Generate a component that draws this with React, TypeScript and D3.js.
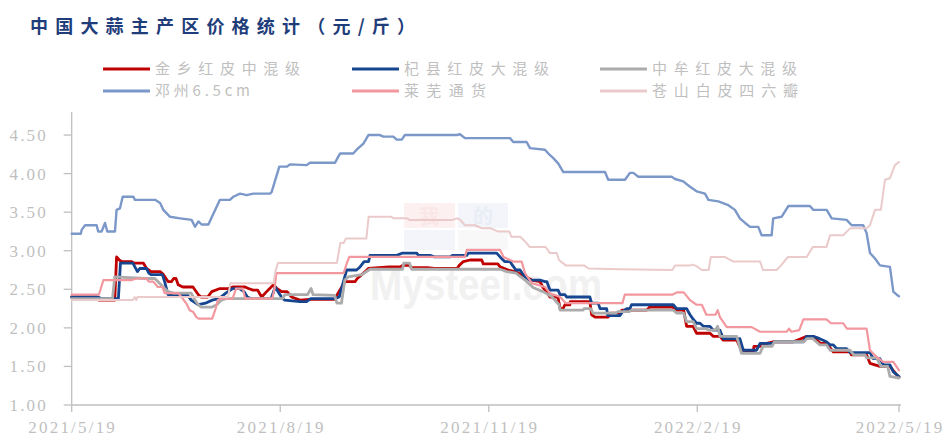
import React, { useEffect } from 'react';
import * as d3 from 'd3';

// ---------- data ----------
const title = '中国大蒜主产区价格统计（元/斤）';
const startDate = '2021/5/19';
const endDate = '2022/5/19';
const xTickLabels = ['2021/5/19', '2021/8/19', '2021/11/19', '2022/2/19', '2022/5/19'];
const yTickValues = [1.0, 1.5, 2.0, 2.5, 3.0, 3.5, 4.0, 4.5];
const seriesNames = ['金乡红皮中混级', '杞县红皮大混级', '中牟红皮大混级', '邓州6.5cm', '莱芜通货', '苍山白皮四六瓣'];
const seriesColors = ['#C00000', '#16468F', '#ABABAB', '#7B98C9', '#F3979F', '#EACACA'];

// [days since 2021/5/19, price]
const jinxiang: [number, number][] = [
  [0, 2.4], [11, 2.4], [12, 2.36], [19, 2.36], [19.8, 2.92], [21, 2.88], [22, 2.86], [26.5, 2.86], [27.5, 2.84], [31.6, 2.84],
  [33, 2.77], [35, 2.73], [39, 2.73], [40.5, 2.69], [42.5, 2.6], [44, 2.6], [45, 2.64], [46, 2.64], [47, 2.56], [49, 2.53],
  [53.5, 2.53], [55.9, 2.43], [57, 2.4], [60, 2.4], [61.8, 2.47], [65.4, 2.51], [69, 2.51], [71, 2.53], [76.5, 2.53], [78, 2.51],
  [80, 2.49], [82, 2.49], [83.8, 2.4], [86, 2.47], [89, 2.56], [90.5, 2.51], [92.6, 2.47], [95, 2.47], [97, 2.4], [100.7, 2.36],
  [105, 2.37], [116, 2.37], [117.5, 2.45], [120.6, 2.6], [125, 2.6], [126, 2.64], [128, 2.69], [129.5, 2.73], [130.9, 2.77], [140, 2.79],
  [145, 2.79], [146, 2.81], [149, 2.81], [150, 2.78], [157, 2.78], [160, 2.77], [170, 2.77], [171, 2.81], [172.8, 2.86], [175.7, 2.88],
  [180.9, 2.88], [181.6, 2.83], [188, 2.83], [189, 2.79], [192.6, 2.75], [195.6, 2.73], [198.5, 2.69], [203, 2.62], [206.6, 2.6], [208, 2.52],
  [210.3, 2.43], [211, 2.4], [214.5, 2.4], [215.5, 2.25], [216.8, 2.25], [217.6, 2.3], [219.8, 2.3], [220, 2.34], [228.6, 2.34], [229.4, 2.17],
  [230.9, 2.14], [236.7, 2.14], [237.5, 2.19], [241.9, 2.19], [242.7, 2.23], [253.7, 2.23], [255, 2.27], [265, 2.27], [266.5, 2.23], [270, 2.23],
  [271.3, 2.02], [274.2, 2.02], [275.7, 1.93], [281.6, 1.93], [283, 1.89], [286, 1.89], [287.5, 1.84], [293.4, 1.84], [295.5, 1.71], [297, 1.71],
  [297.8, 1.69], [300.7, 1.69], [301, 1.76], [303.7, 1.76], [304, 1.8], [306.6, 1.8], [309.5, 1.82], [318.4, 1.82], [324.3, 1.89], [327.2, 1.89],
  [330.2, 1.8], [333.1, 1.8], [336, 1.69], [343.4, 1.69], [344, 1.65], [350.7, 1.65], [352.2, 1.54], [356.6, 1.5], [361, 1.5], [364, 1.39], [365, 1.36],
];

const qixian: [number, number][] = [
  [0, 2.4], [11.6, 2.4], [13, 2.38], [20.6, 2.38], [21.5, 2.84], [27, 2.84], [29, 2.73], [30, 2.77], [33, 2.77], [34, 2.71],
  [35, 2.69], [40, 2.69], [41, 2.6], [42.5, 2.43], [51, 2.43], [52.7, 2.36], [55.9, 2.3], [59, 2.32], [62, 2.36], [65, 2.38],
  [68, 2.45], [71, 2.51], [74, 2.51], [76, 2.47], [77.5, 2.4], [79, 2.38], [88, 2.38], [89.8, 2.53], [91, 2.47], [93, 2.38],
  [94, 2.36], [100.7, 2.34], [103.6, 2.34], [104.5, 2.36], [105.5, 2.38], [116, 2.38], [118, 2.4], [121.3, 2.75], [125.7, 2.75], [127.2, 2.79],
  [129, 2.86], [131, 2.86], [131.6, 2.94], [143.4, 2.94], [146, 2.97], [152.2, 2.97], [153, 2.94], [158.1, 2.94], [160, 2.92], [167, 2.92],
  [168, 2.94], [174.3, 2.94], [175, 2.97], [187.5, 2.97], [189, 2.92], [191, 2.86], [193.4, 2.86], [194.5, 2.81], [196, 2.75], [197.8, 2.75],
  [200, 2.66], [202, 2.62], [206.6, 2.62], [208.8, 2.6], [209.6, 2.6], [211, 2.49], [214.6, 2.49], [215.5, 2.43], [217.6, 2.43], [218.4, 2.4],
  [228.6, 2.4], [229.4, 2.32], [232.3, 2.32], [233.1, 2.25], [236, 2.25], [236.5, 2.16], [241.9, 2.16], [243, 2.21], [244.9, 2.25], [246.3, 2.25],
  [247, 2.3], [265.4, 2.3], [266.9, 2.25], [271.3, 2.25], [272.8, 2.17], [274, 2.12], [275.7, 2.06], [277.2, 2.06], [278.7, 2.02], [281.6, 2.02],
  [283, 1.97], [286, 1.97], [287.5, 1.86], [294.8, 1.86], [296.3, 1.71], [302.2, 1.71], [303.7, 1.8], [309.5, 1.8], [310, 1.82], [322.8, 1.82],
  [324.3, 1.89], [327.2, 1.89], [330, 1.86], [333, 1.82], [334.6, 1.78], [336, 1.78], [337.5, 1.73], [341.9, 1.73], [343.4, 1.68], [352.2, 1.68],
  [353.7, 1.6], [356.6, 1.6], [358.1, 1.52], [361, 1.52], [362.5, 1.43], [365, 1.37],
];

const zhongmou: [number, number][] = [
  [0, 2.38], [18, 2.38], [19, 2.66], [32.3, 2.64], [36.7, 2.64], [38, 2.6], [41, 2.51], [42.5, 2.47], [45, 2.45], [52.7, 2.45],
  [54.4, 2.36], [55.9, 2.3], [57, 2.27], [62, 2.27], [64, 2.3], [66, 2.36], [68, 2.38], [93, 2.38], [94, 2.43], [104, 2.43],
  [105.6, 2.51], [106.5, 2.43], [116, 2.42], [117, 2.32], [119, 2.32], [120.5, 2.62], [122, 2.66], [128, 2.69], [131.6, 2.76], [146, 2.76],
  [146.5, 2.84], [149, 2.84], [150, 2.76], [189, 2.76], [192, 2.73], [196, 2.71], [200, 2.62], [203.7, 2.52], [208, 2.47], [212, 2.4],
  [215, 2.3], [215.5, 2.23], [225.6, 2.23], [226, 2.25], [229, 2.25], [230, 2.19],
  [240, 2.19], [241, 2.21], [246, 2.21], [247, 2.23], [265.4, 2.23], [267, 2.19], [270, 2.19], [271.3, 2.08], [274.2, 2.08], [275.7, 1.99],
  [280, 1.99], [281, 1.97], [284, 1.97], [285, 2.02], [286, 1.89], [293.4, 1.89], [295.5, 1.67], [303.7, 1.67], [305, 1.76], [309, 1.76],
  [310, 1.82], [323, 1.82], [324.3, 1.86], [327, 1.86], [330, 1.78], [333, 1.78], [334.6, 1.71], [343.4, 1.71], [345, 1.65], [350, 1.65],
  [350.7, 1.61], [355.1, 1.61], [357, 1.5], [360, 1.5], [361, 1.37], [365, 1.35],
];

const dengzhou: [number, number][] = [
  [0, 3.22], [4, 3.22], [4.4, 3.27], [5.9, 3.33], [11, 3.33], [11.7, 3.25], [13.2, 3.25], [14.7, 3.36], [15.7, 3.25], [19.1, 3.25],
  [19.8, 3.53], [21.3, 3.55], [22.5, 3.7], [27.2, 3.7], [27.9, 3.66], [36.8, 3.66], [39, 3.62], [40.4, 3.53], [43.4, 3.44], [47.8, 3.42],
  [52.9, 3.4], [54.4, 3.31], [55.9, 3.38], [57.3, 3.34], [60.3, 3.34], [65.4, 3.66], [69.8, 3.66], [71.3, 3.7], [74.3, 3.74], [77.2, 3.72],
  [80.1, 3.74], [87.5, 3.74], [88.2, 3.76], [91.6, 4.09], [94.9, 4.09], [96.3, 4.12], [103.7, 4.11], [105.1, 4.14], [116.2, 4.14], [117.6, 4.22],
  [118.4, 4.26], [124.2, 4.26], [125.7, 4.31], [128.7, 4.39], [130.9, 4.5], [136, 4.5], [137.5, 4.48], [141.9, 4.48], [143.4, 4.44], [145.6, 4.44],
  [147, 4.5], [169.9, 4.5], [171.3, 4.51], [173.5, 4.46], [193.4, 4.46], [194.8, 4.41], [200.7, 4.41], [202.2, 4.33], [208.8, 4.31], [210.3, 4.26],
  [212.5, 4.2], [214.7, 4.13], [216.9, 4.02], [235.3, 4.02], [236.7, 3.92], [244.1, 3.92], [246.3, 4.01], [247.8, 4.01], [250, 3.96], [264.7, 3.96],
  [266.2, 3.93], [269.8, 3.9], [272.8, 3.83], [275.7, 3.77], [279.4, 3.74], [280.9, 3.66], [285.3, 3.64], [289.7, 3.59], [292.6, 3.53], [294.8, 3.42],
  [297.1, 3.36], [299.3, 3.31], [302.9, 3.31], [304.4, 3.2], [308.8, 3.2], [309.5, 3.42], [313.2, 3.44], [316.2, 3.58], [325.7, 3.58], [327.2, 3.53],
  [333.1, 3.53], [335.3, 3.42], [341.9, 3.4], [344.1, 3.33], [349.2, 3.33], [350.7, 3.23], [352.2, 2.97], [354.4, 2.9], [356.6, 2.81], [361, 2.79],
  [362.5, 2.47], [364, 2.43], [365, 2.41],
];

const laiwu: [number, number][] = [
  [0, 2.43], [12, 2.43], [14, 2.62], [26.5, 2.62], [28.7, 2.64], [33, 2.64], [34, 2.6], [36, 2.6], [38, 2.53], [40, 2.53],
  [41, 2.45], [47, 2.45], [49, 2.38], [50.9, 2.3], [52, 2.23], [53.5, 2.21], [55, 2.14], [56, 2.12], [62, 2.12], [63.5, 2.25],
  [64.5, 2.36], [66, 2.38], [71, 2.38], [72.5, 2.51], [75.5, 2.51], [76.5, 2.38], [88.5, 2.38], [89.5, 2.51], [90.3, 2.71], [120, 2.71],
  [121.5, 2.85], [122.5, 2.92], [173.5, 2.92], [174.3, 3.01], [189, 3.01], [190.5, 2.92], [194.8, 2.86], [198.5, 2.86], [200, 2.71], [203, 2.58],
  [208.8, 2.53], [211, 2.45], [215.5, 2.4], [218, 2.32], [243, 2.32], [244, 2.43], [265, 2.43], [267, 2.46], [270, 2.46], [272.8, 2.36],
  [275.7, 2.3], [278, 2.3], [280, 2.17], [284, 2.17], [285, 2.23], [286, 2.14], [289, 2.01], [300, 2.01], [303.7, 1.95], [315.4, 1.95],
  [316.5, 1.99], [317.5, 1.95], [321, 1.97], [322.8, 2.11], [333, 2.11], [335, 2.06], [340.4, 2.06], [342, 1.99], [350.7, 1.99], [352.2, 1.71],
  [354.5, 1.64], [358, 1.56], [362.5, 1.56], [365, 1.45],
];

const cangshan: [number, number][] = [
  [0, 2.36], [27, 2.36], [27.8, 2.4], [28.5, 2.36], [29, 2.4], [69, 2.4], [70, 2.58], [89, 2.58], [90, 2.75], [91, 2.84],
  [117, 2.84], [118.5, 3.1], [120, 3.1], [121, 3.16], [130, 3.16], [131, 3.44], [141, 3.44], [142, 3.42], [148, 3.42], [149, 3.4],
  [168, 3.4], [170, 3.42], [171.5, 3.4], [173.5, 3.33], [178, 3.33], [181, 3.29], [185, 3.29], [188, 3.25], [193, 3.25], [194, 3.18],
  [198, 3.18], [200, 3.12], [202, 3.05], [209, 3.05], [211, 2.97], [214, 2.97], [215, 2.88], [218, 2.81], [226, 2.81], [228, 2.77],
  [241.9, 2.76], [265, 2.75], [266.2, 2.81], [273, 2.81], [274, 2.82], [275.7, 2.8], [278, 2.75], [281, 2.75], [282, 2.92], [288, 2.92],
  [292, 2.86], [303.7, 2.86], [305, 2.75], [311, 2.75], [313, 2.81], [316, 2.92], [324.3, 2.92], [327, 3.05], [333, 3.05], [334.6, 3.2],
  [340.4, 3.2], [343.4, 3.29], [350.7, 3.29], [352.2, 3.33], [354.4, 3.53], [357, 3.53], [358.8, 3.92], [361, 3.94], [363.2, 4.11], [365, 4.15],
];

const seriesData = [jinxiang, qixian, zhongmou, dengzhou, laiwu, cangshan];
const seriesWidths = [2.8, 2.8, 2.8, 2.4, 2.2, 2.0];

// ---------- layout ----------
const W = 943;
const H = 437;
const plotLeft = 71.7;
const plotRight = 899;
const plotBottom = 405;
const plotTop = 111.9;

const parseD = (s: string) => {
  const [y, m, d] = s.split('/').map(Number);
  return new Date(y, m - 1, d);
};
const t0 = parseD(startDate);
const dayToDate = (d: number) => new Date(t0.getTime() + d * 86400000);

export default function App() {
  useEffect(() => {
    document.body.style.margin = '0';
  }, []);

  const x = d3.scaleTime().domain([parseD(startDate), parseD(endDate)]).range([plotLeft, plotRight]);
  const y = d3.scaleLinear().domain([1, 4.8]).range([plotBottom, plotTop]);
  const line = d3
    .line<[number, number]>()
    .x((d) => x(dayToDate(d[0])))
    .y((d) => y(d[1]));

  const axisColor = '#BFBFBF';
  const tickFont = '"Liberation Serif", "DejaVu Serif", serif';
  const cjk = '"Noto Sans CJK SC", "Noto Sans", sans-serif';

  const legendCols = [103, 352, 600];
  const legendRows = [69, 91];
  const legendWidths = [145, 145, 145, 95, 82, 146];

  return (
    <svg width={W} height={H} style={{ position: 'absolute', left: 0, top: 0, background: '#fff' }}>
      <rect x={0} y={0} width={W} height={H} fill="#fff" />
      {/* title */}
      <text
        x={30}
        y={33}
        fontFamily={cjk}
        fontWeight={700}
        fontSize={18}
        fill="#1F3D7A"
        textLength={385}
        lengthAdjust="spacing"
      >
        {title}
      </text>

      {/* legend */}
      {seriesNames.map((name, i) => {
        const cx = legendCols[i % 3];
        const cy = legendRows[Math.floor(i / 3)];
        return (
          <g key={name}>
            <line x1={cx} x2={cx + 47} y1={cy} y2={cy} stroke={seriesColors[i]} strokeWidth={3} />
            <text
              x={cx + 52}
              y={cy + 5}
              fontFamily={cjk}
              fontSize={15}
              fill="#BFBFBF"
              textLength={legendWidths[i]}
              lengthAdjust="spacing"
            >
              {name}
            </text>
          </g>
        );
      })}

      {/* watermark */}
      <g opacity={0.5}>
        <rect x={404} y={203} width={51} height={25} fill="#FBE3E3" />
        <rect x={458} y={203} width={50} height={25} fill="#E8EDF7" />
        <rect x={404} y={230} width={51} height={20} fill="#E8EDF7" />
        <rect x={458} y={230} width={50} height={20} fill="#F3F3F3" />
        <text x={429} y={224} fontFamily={cjk} fontWeight={700} fontSize={20} fill="#F7CFCF" textAnchor="middle">我</text>
        <text x={483} y={224} fontFamily={cjk} fontWeight={700} fontSize={20} fill="#D3DCEE" textAnchor="middle">的</text>
      </g>
      <text x={370} y={300} fontFamily='"Liberation Sans", Arial, sans-serif' fontWeight={700} fontSize={44} fill="#F1F1F1" textLength={232} lengthAdjust="spacingAndGlyphs">
        Mysteel.com
      </text>

      {/* y axis */}
      <line x1={plotLeft} x2={plotLeft} y1={plotTop} y2={plotBottom} stroke={axisColor} strokeWidth={1.3} />
      {yTickValues.map((v) => (
        <g key={v}>
          <line x1={plotLeft - 8} x2={plotLeft} y1={y(v)} y2={y(v)} stroke={axisColor} strokeWidth={1.3} />
          <text
            x={48}
            y={y(v) + 6}
            textAnchor="end"
            fontFamily={tickFont}
            fontSize={17}
            letterSpacing={2.2}
            fill="#BFBFBF"
          >
            {v.toFixed(2)}
          </text>
        </g>
      ))}

      {/* x axis */}
      <line x1={plotLeft} x2={plotRight + 2} y1={plotBottom} y2={plotBottom} stroke={axisColor} strokeWidth={1.3} />
      {xTickLabels.map((lab) => {
        const px = x(parseD(lab));
        return (
          <g key={lab}>
            <line x1={px} x2={px} y1={plotBottom} y2={plotBottom + 7} stroke={axisColor} strokeWidth={1.3} />
            <text
              x={px + 1}
              y={433}
              textAnchor="middle"
              fontFamily={tickFont}
              fontSize={17}
              letterSpacing={2.2}
              fill="#BFBFBF"
            >
              {lab}
            </text>
          </g>
        );
      })}

      {/* series */}
      {seriesData.map((data, i) => (
        <path
          key={seriesNames[i]}
          d={line(data) || ''}
          fill="none"
          stroke={seriesColors[i]}
          strokeWidth={seriesWidths[i]}
          strokeLinejoin="round"
          strokeLinecap="round"
        />
      ))}
    </svg>
  );
}
